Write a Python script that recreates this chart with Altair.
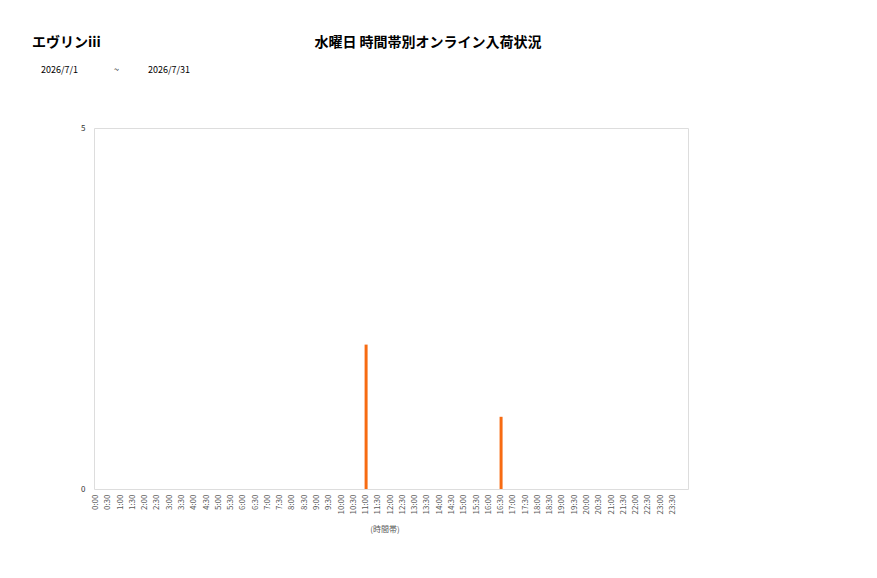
import altair as alt
import pandas as pd

slots = [f"{h}:{m:02d}" for h in range(24) for m in (0, 30)]
counts = [0] * 48
counts[slots.index("11:00")] = 2
counts[slots.index("16:30")] = 1

store_name = "エヴリンiii"
main_title = "水曜日 時間帯別オンライン入荷状況"
date_from = "2026/7/1"
date_sep = "~"
date_to = "2026/7/31"
x_title = "(時間帯)"

df = pd.DataFrame({"slot": slots, "count": counts})

JP = "Noto Sans CJK JP"

bars = alt.Chart(df).mark_bar(size=3, color="#F76B12").encode(
    x=alt.X("slot:N", sort=slots,
            scale=alt.Scale(range=[-4, 585], paddingInner=0, paddingOuter=0),
            axis=alt.Axis(title=x_title, labelAngle=-90, labelFontSize=8,
                          labelColor="#595959", labelFont=JP, labelPadding=5,
                          domain=False, ticks=False, grid=False,
                          titleFont=JP, titleFontSize=8, titleFontWeight="normal",
                          titleColor="#595959", titleY=40, titleBaseline="middle")),
    y=alt.Y("count:Q", scale=alt.Scale(domain=[0, 5], nice=False),
            axis=alt.Axis(title=None, values=[0, 5], labelFontSize=8,
                          labelColor="#333333", labelFont=JP, labelPadding=9,
                          domain=False, ticks=False, grid=False)),
)

texts = pd.DataFrame({"t": [store_name]})
t_store = alt.Chart(texts).mark_text(font=JP, fontSize=14, fontWeight="bold",
                                     align="left", baseline="middle", color="#000000").encode(
    text="t:N", x=alt.value(-62), y=alt.value(-85))

t_main = alt.Chart(pd.DataFrame({"t": [main_title]})).mark_text(
    font=JP, fontSize=14, fontWeight="bold", align="center", baseline="middle",
    color="#000000").encode(text="t:N", x=alt.value(334), y=alt.value(-85))

t_from = alt.Chart(pd.DataFrame({"t": [date_from]})).mark_text(
    font=JP, fontSize=9, align="left", baseline="middle", color="#000000").encode(
    text="t:N", x=alt.value(-53), y=alt.value(-58))
t_sep = alt.Chart(pd.DataFrame({"t": [date_sep]})).mark_text(
    font=JP, fontSize=9, align="left", baseline="middle", color="#000000").encode(
    text="t:N", x=alt.value(20), y=alt.value(-58))
t_to = alt.Chart(pd.DataFrame({"t": [date_to]})).mark_text(
    font=JP, fontSize=9, align="left", baseline="middle", color="#000000").encode(
    text="t:N", x=alt.value(54), y=alt.value(-58))

chart = alt.layer(bars, t_store, t_main, t_from, t_sep, t_to).properties(
    width=594, height=361,
    padding={"left": 86, "top": 120, "right": 181, "bottom": 81},
    autosize=alt.AutoSizeParams(type="none"),
).configure_view(stroke="#d9d9d9", strokeWidth=1).configure(background="#ffffff")

chart.save("out.html", embed_options={"renderer": "svg", "actions": False})
